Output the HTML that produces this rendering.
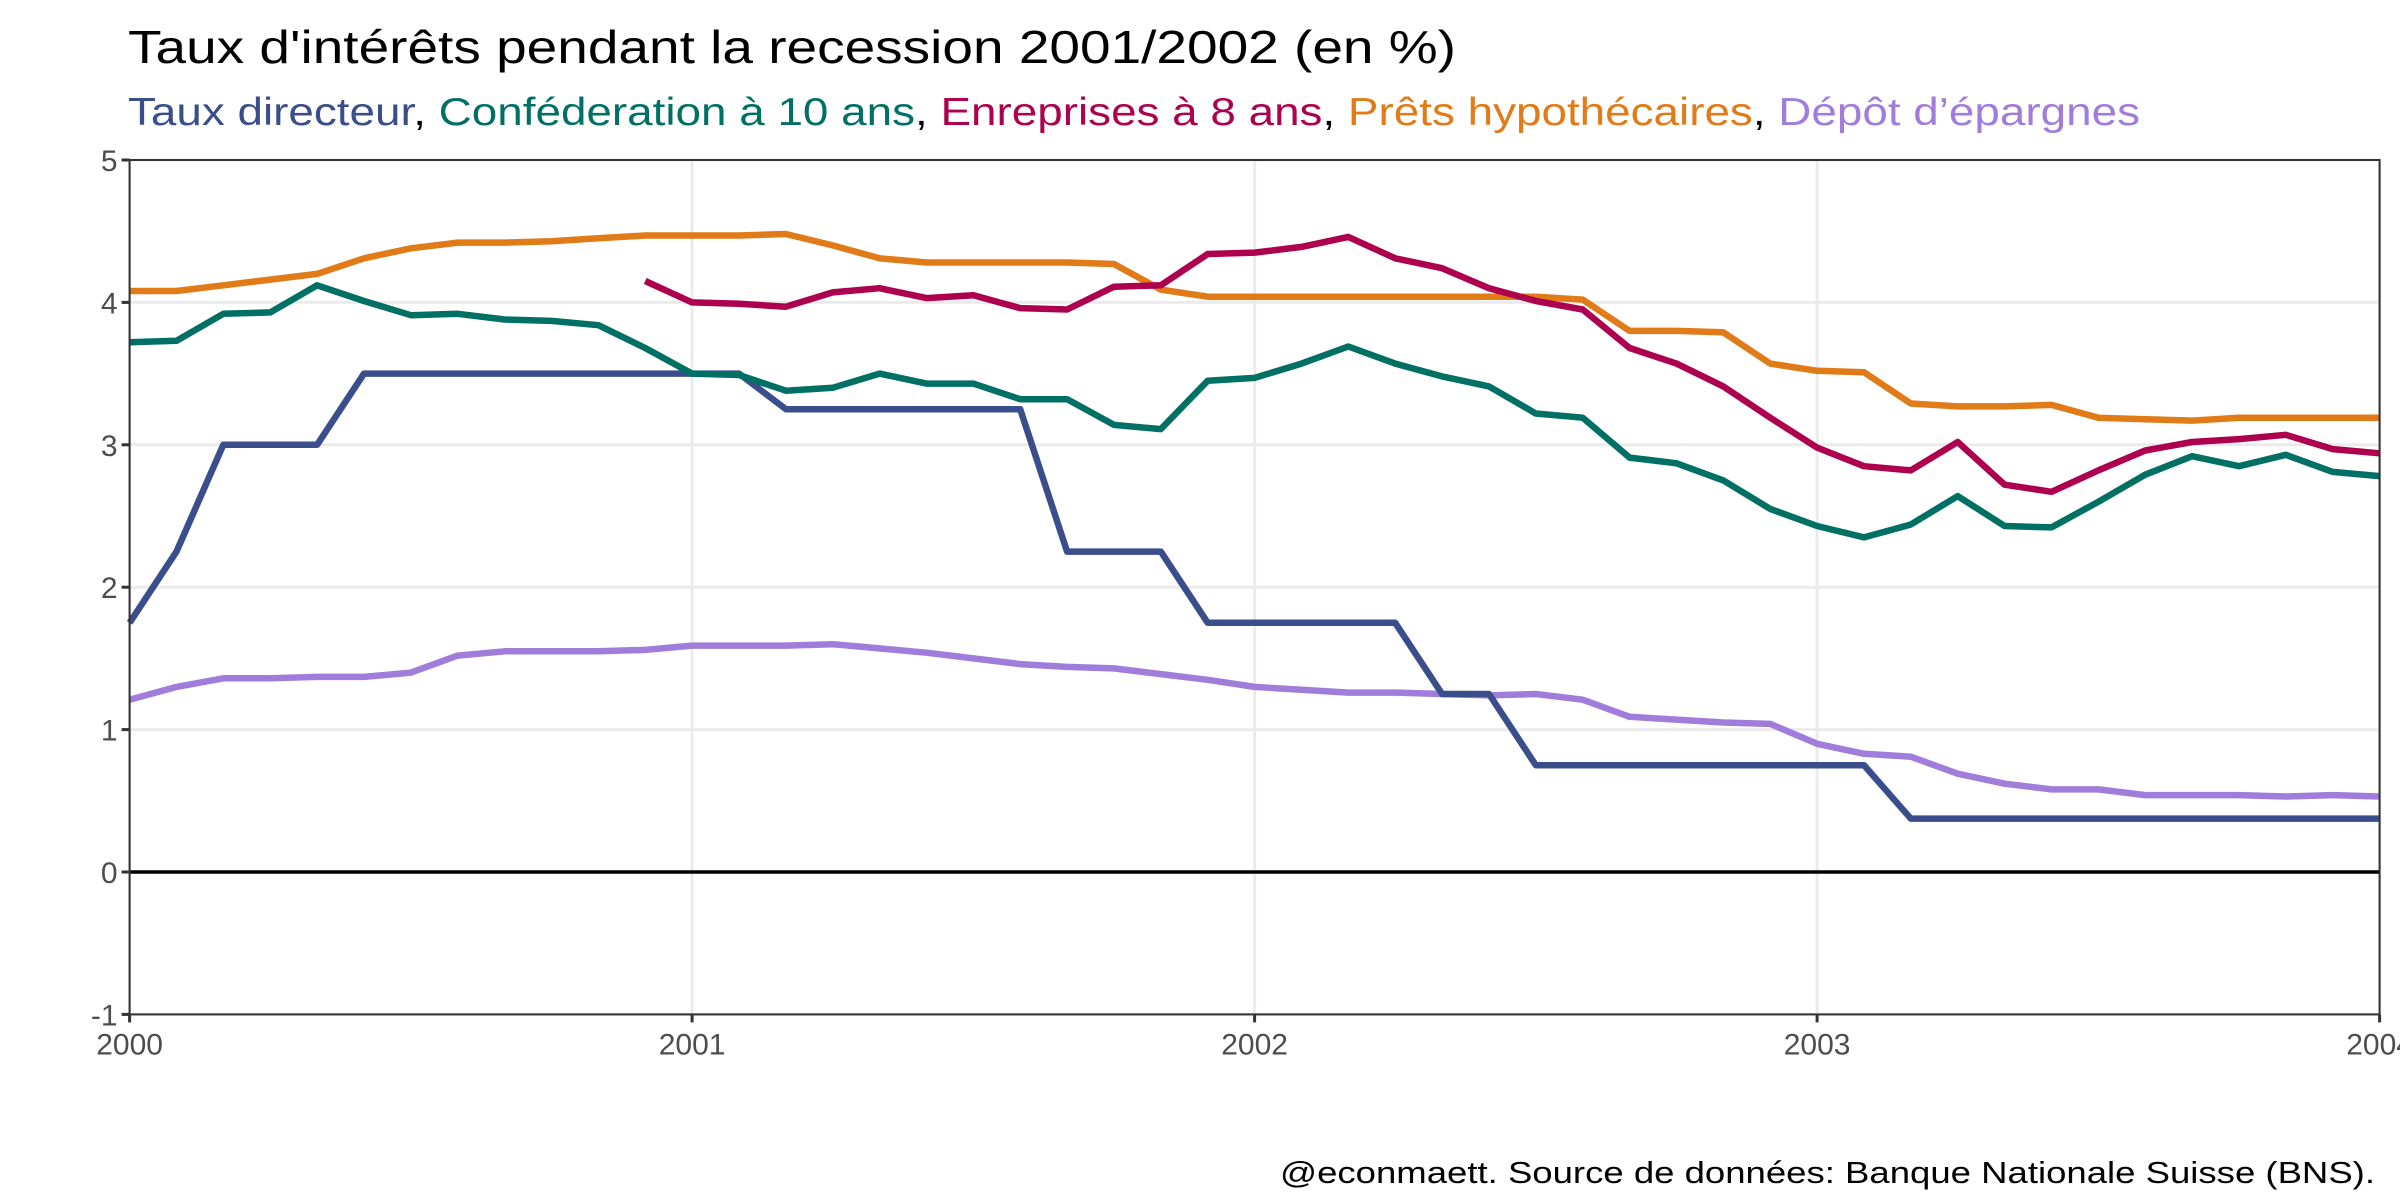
<!DOCTYPE html>
<html><head><meta charset="utf-8">
<style>
html,body{margin:0;padding:0;background:#fff;}
svg{display:block;font-family:"Liberation Sans",Arial,sans-serif;}
</style></head>
<body>
<svg id="chart" width="2400" height="1200" viewBox="0 0 2400 1200" xmlns="http://www.w3.org/2000/svg">
<rect x="0" y="0" width="2400" height="1200" fill="#fff"/>
<text x="128" y="63" font-size="46" fill="#000" textLength="1328" lengthAdjust="spacingAndGlyphs">Taux d'intérêts pendant la recession 2001/2002 (en %)</text>
<text x="128" y="125" font-size="39" textLength="2012" lengthAdjust="spacingAndGlyphs"><tspan fill="#3a4e8c">Taux directeur</tspan><tspan fill="#000">, </tspan><tspan fill="#007065">Conféderation à 10 ans</tspan><tspan fill="#000">, </tspan><tspan fill="#ad004e">Enreprises à 8 ans</tspan><tspan fill="#000">, </tspan><tspan fill="#e07b18">Prêts hypothécaires</tspan><tspan fill="#000">, </tspan><tspan fill="#a17ddb">Dépôt d’épargnes</tspan></text>
<g id="grid"></g>
<g id="series"></g>
<g id="axes"></g>
<text x="2375" y="1183" font-size="31" fill="#000" text-anchor="end" textLength="1095" lengthAdjust="spacingAndGlyphs">@econmaett. Source de données: Banque Nationale Suisse (BNS).</text>
</svg>
<script>
const yTicks = [-1, 0, 1, 2, 3, 4, 5];
const xTickLabels = ["2000", "2001", "2002", "2003", "2004"];
const tauxDirecteur = [1.75,2.25,3,3,3,3.5,3.5,3.5,3.5,3.5,3.5,3.5,3.5,3.5,3.25,3.25,3.25,3.25,3.25,3.25,2.25,2.25,2.25,1.75,1.75,1.75,1.75,1.75,1.25,1.25,0.75,0.75,0.75,0.75,0.75,0.75,0.75,0.75,0.375,0.375,0.375,0.375,0.375,0.375,0.375,0.375,0.375,0.375,0.375];
const confederation = [3.72,3.73,3.92,3.93,4.12,4.01,3.91,3.92,3.88,3.87,3.84,3.68,3.50,3.49,3.38,3.40,3.50,3.43,3.43,3.32,3.32,3.14,3.11,3.45,3.47,3.57,3.69,3.57,3.48,3.41,3.22,3.19,2.91,2.87,2.75,2.55,2.43,2.35,2.44,2.64,2.43,2.42,2.60,2.79,2.92,2.85,2.93,2.81,2.78];
const entreprises = [null,null,null,null,null,null,null,null,null,null,null,4.15,4.00,3.99,3.97,4.07,4.10,4.03,4.05,3.96,3.95,4.11,4.12,4.34,4.35,4.39,4.46,4.31,4.24,4.10,4.01,3.95,3.68,3.57,3.41,3.19,2.98,2.85,2.82,3.02,2.72,2.67,2.82,2.96,3.02,3.04,3.07,2.97,2.94];
const prets = [4.08,4.08,4.12,4.16,4.20,4.31,4.38,4.42,4.42,4.43,4.45,4.47,4.47,4.47,4.48,4.40,4.31,4.28,4.28,4.28,4.28,4.27,4.09,4.04,4.04,4.04,4.04,4.04,4.04,4.04,4.04,4.02,3.80,3.80,3.79,3.57,3.52,3.51,3.29,3.27,3.27,3.28,3.19,3.18,3.17,3.19,3.19,3.19,3.19];
const depot = [1.21,1.30,1.36,1.36,1.37,1.37,1.40,1.52,1.55,1.55,1.55,1.56,1.59,1.59,1.59,1.60,1.57,1.54,1.50,1.46,1.44,1.43,1.39,1.35,1.30,1.28,1.26,1.26,1.25,1.24,1.25,1.21,1.09,1.07,1.05,1.04,0.90,0.83,0.81,0.69,0.62,0.58,0.58,0.54,0.54,0.54,0.53,0.54,0.53];

const NS = "http://www.w3.org/2000/svg";
const X0 = 129.6, X1 = 2379.6, Y5 = 160, Y0v = 872;
const xScale = m => X0 + (X1 - X0) * m / 48;
const yScale = v => Y0v - (Y0v - Y5) * v / 5;
function mk(tag, attrs, parent){const e=document.createElementNS(NS,tag);for(const k in attrs)e.setAttribute(k,attrs[k]);parent.appendChild(e);return e;}
const grid = document.getElementById('grid'), axes = document.getElementById('axes'), series = document.getElementById('series');
const yBot = yScale(-1), yTop = yScale(5);

yTicks.forEach(v => {
  const g = mk('line',{x1:X0,x2:X1,y1:yScale(v),y2:yScale(v),stroke:'#ebebeb','stroke-width':3},grid);
  
  
  const t = mk('line',{x1:X0-8,x2:X0,y1:yScale(v),y2:yScale(v),stroke:'#333','stroke-width':3},axes);
  
  
  const l = mk('text',{x:X0-12,y:yScale(v)+11,'font-size':30,fill:'#4d4d4d','text-anchor':'end'},axes);
  l.textContent = String(v);
  
  
});
xTickLabels.forEach((lab,i) => {
  const x = xScale(i*12);
  const g = mk('line',{x1:x,x2:x,y1:yTop,y2:yBot,stroke:'#ebebeb','stroke-width':3},grid);
  
  
  const t = mk('line',{x1:x,x2:x,y1:yBot,y2:yBot+8,stroke:'#333','stroke-width':3},axes);
  
  
  const l = mk('text',{x:x,y:yBot+40,'font-size':30,fill:'#4d4d4d','text-anchor':'middle'},axes);
  l.textContent = lab;
  
  
});
const zl = mk('line',{x1:X0,x2:X1,y1:yScale(0),y2:yScale(0),stroke:'#000','stroke-width':3.5},grid);


const frame = mk('rect',{x:X0,y:yTop,width:X1-X0,height:yBot-yTop,fill:'none',stroke:'#333','stroke-width':2},axes);



const defs = [
  [depot,'#a17ddb','line-depot-epargnes'],
  [tauxDirecteur,'#3a4e8c','line-taux-directeur'],
  [prets,'#e07b18','line-prets-hypothecaires'],
  [confederation,'#007065','line-confederation-10-ans'],
  [entreprises,'#ad004e','line-entreprises-8-ans']
];
defs.forEach(([arr,col,name]) => {
  let d='', pen=false;
  arr.forEach((v,i) => {
    if(v===null){pen=false;return;}
    d += (pen?'L':'M') + xScale(i).toFixed(1) + ',' + yScale(v).toFixed(1) + ' ';
    pen=true;
  });
  const p = mk('path',{d:d,fill:'none',stroke:col,'stroke-width':6.5,'stroke-linejoin':'round','stroke-linecap':'butt'},series);
  
  
});
</script>
</body></html>
